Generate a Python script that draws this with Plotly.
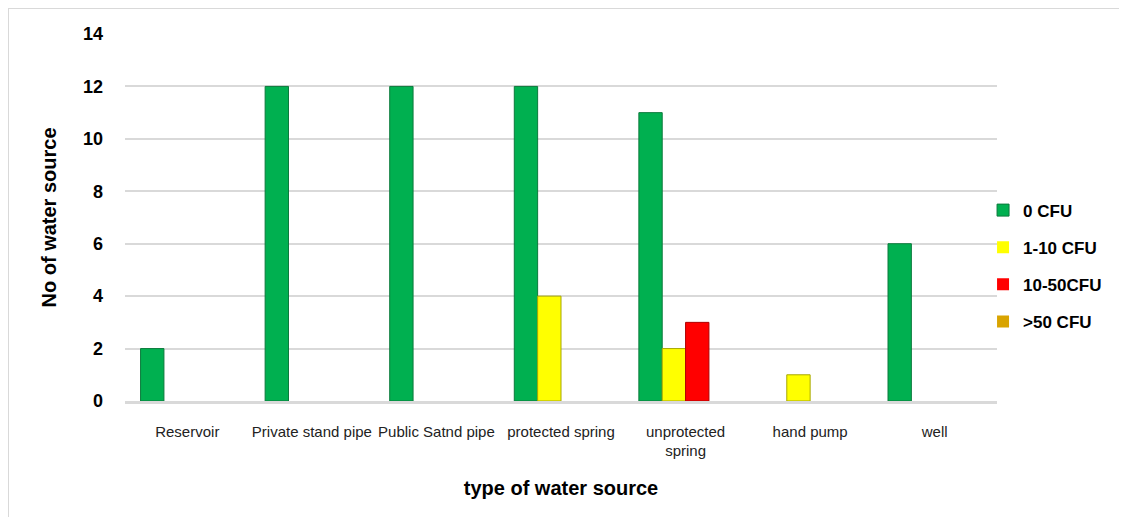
import plotly.graph_objects as go

categories = ["Reservoir", "Private stand pipe", "Public Satnd pipe", "protected spring",
              "unprotected<br>spring", "hand pump", "well"]
series_names = ["0 CFU", "1-10 CFU", "10-50CFU", ">50 CFU"]
cfu_0 = [2, 12, 12, 12, 11, 0, 6]
cfu_1_10 = [0, 0, 0, 4, 2, 1, 0]
cfu_10_50 = [0, 0, 0, 0, 3, 0, 0]
cfu_50 = [0, 0, 0, 0, 0, 0, 0]
y_ticks = [0, 2, 4, 6, 8, 10, 12, 14]

colors = ["#00B050", "#FFFF00", "#FF0000", "#D9A400"]
edges = ["#0B7A3C", "#A8A800", "#B00000", "#9A7400"]

W, H = 1119, 509
L, R, T, B = 117, 130, 26, 116
PW, PH = W - L - R, H - T - B

fig = go.Figure()
for i, (name, vals) in enumerate(zip(series_names, [cfu_0, cfu_1_10, cfu_10_50, cfu_50])):
    fig.add_trace(go.Bar(
        x=categories, y=vals, name=f"<b>{name}</b>", legendgroup=str(i),
        marker=dict(color=colors[i],
                    line=dict(color=edges[i], width=[1 if v > 0 else 0 for v in vals])),
    ))

fig.update_layout(
    width=W, height=H,
    margin=dict(l=L, r=R, t=T, b=B),
    paper_bgcolor="white", plot_bgcolor="white",
    barmode="group", bargap=0.25, bargroupgap=0,
    font=dict(family="Arial, Liberation Sans, sans-serif", color="#000000"),
    showlegend=True,
    legend=dict(x=0.984, xanchor="left", y=0.568, yanchor="top",
                font=dict(size=17, color="#000000", family="Arial, Liberation Sans, sans-serif"),
                tracegroupgap=12, itemwidth=30, bgcolor="rgba(0,0,0,0)"),
    xaxis=dict(
        showgrid=False, showline=True, linecolor="#D9D9D9", linewidth=2.5,
        ticks="", ticklabelstandoff=15, tickfont=dict(size=15, color="#222222"),
        title=dict(text="<b>type of water source</b>", font=dict(size=20, color="#000000"), standoff=23),
    ),
    yaxis=dict(
        range=[0, 14], tickvals=y_ticks, ticktext=[f"<b>{v}</b>" for v in y_ticks],
        showgrid=True, gridcolor="#D9D9D9", gridwidth=1.5, zeroline=False, showline=False,
        ticks="", ticklabelstandoff=21, tickfont=dict(size=18, color="#000000"),
        title=dict(text="<b>No of water source</b>", font=dict(size=20, color="#000000"), standoff=20),
    ),
    shapes=[dict(type="rect", xref="paper", yref="paper",
                 x0=-L / PW, x1=(W + 20 - L) / PW,
                 y0=-(B + 20) / PH, y1=(PH + T) / PH,
                 line=dict(color="#D9D9D9", width=2), fillcolor="rgba(0,0,0,0)", layer="below")],
)

fig.write_html("out.html")
